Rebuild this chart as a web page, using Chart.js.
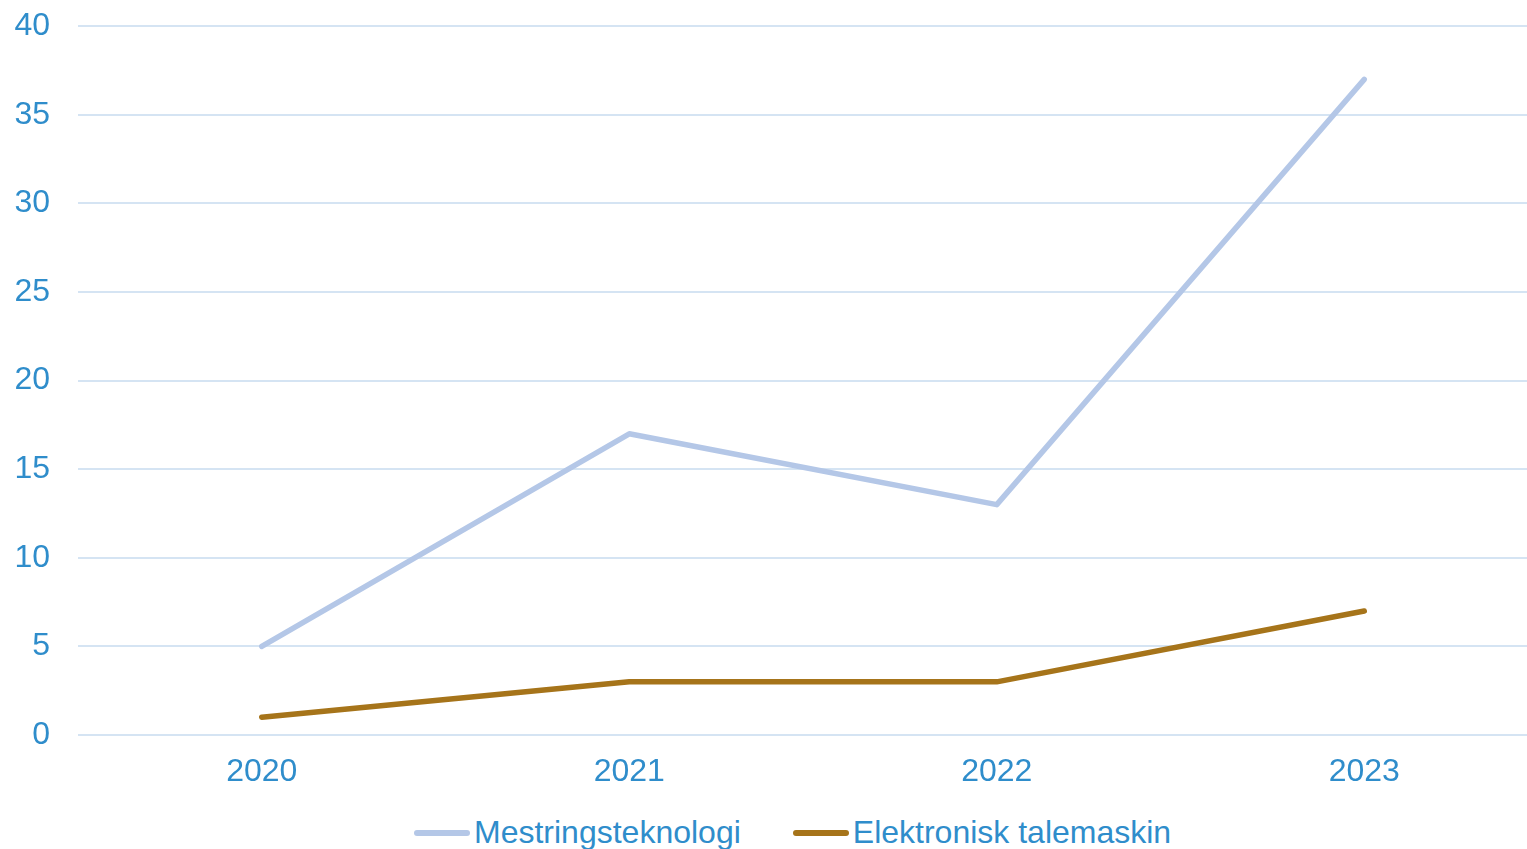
<!DOCTYPE html>
<html>
<head>
<meta charset="utf-8">
<script src="https://cdn.jsdelivr.net/npm/chart.js@4"></script>
<style>
  html, body { margin: 0; padding: 0; background: #fff; overflow: hidden; }
  #wrap { position: relative; width: 1548px; height: 821px; margin-top: -21px; }
  #legend { position: absolute; left: 414px; top: 814px; display: flex; align-items: center;
            font-family: "Liberation Sans", Arial, sans-serif; font-size: 32px; color: #2F8DCB; white-space: nowrap; }
  .item { display: flex; align-items: center; margin-right: 52px; }
  .swatch { width: 56px; height: 6px; border-radius: 3px; margin-right: 4px; }
</style>
</head>
<body>
<div id="wrap"><canvas id="myChart"></canvas></div>
<div id="legend"></div>
<script>
var years = ["2020", "2021", "2022", "2023"];
var mestringsteknologi = [5, 17, 13, 37];
var talemaskin = [1, 3, 3, 7];
var seriesNames = ["Mestringsteknologi", "Elektronisk talemaskin"];
var seriesColors = ["#B4C7E7", "#A6741A"];
var tickColor = "#2F8DCB";

function makeLine(name, values, color) {
    return {
        label: name,
        data: values,
        borderColor: color,
        backgroundColor: color,
        borderWidth: 5.5,
        borderCapStyle: "round",
        borderJoinStyle: "round",
        pointRadius: 0,
        pointHoverRadius: 0,
        tension: 0,
        fill: false
    };
}

var raw_data = {
    labels: years,
    datasets: [
        makeLine(seriesNames[0], mestringsteknologi, seriesColors[0]),
        makeLine(seriesNames[1], talemaskin, seriesColors[1])
    ]
};

var ctx = document.getElementById("myChart");
ctx.width = 1548;
ctx.height = 821;
var myChart = new Chart(ctx, {
    type: "line",
    data: raw_data,
    options: {
        responsive: false,
        animation: false,
        devicePixelRatio: 1,
        layout: { padding: { left: 15, top: 0, right: 0, bottom: 10 } },
        plugins: { legend: { display: false }, tooltip: { enabled: false } },
        scales: {
            x: {
                offset: true,
                grid: { display: false, drawTicks: false },
                border: { display: false },
                ticks: { color: tickColor, padding: 18, font: { family: "Liberation Sans", size: 32 } },
                afterFit: function (scale) { scale.height = 55; }
            },
            y: {
                min: 0,
                max: 40,
                ticks: { stepSize: 5, color: tickColor, padding: 28, font: { family: "Liberation Sans", size: 32 } },
                grid: { color: "#D5E4F3", lineWidth: 2, drawTicks: false },
                border: { display: false },
                afterFit: function (scale) { scale.width = 63; }
            }
        }
    }
});

// legend below the chart
var legend = document.getElementById("legend");
for (var i = 0; i < seriesNames.length; i++) {
    var item = document.createElement("div");
    item.className = "item";
    item.innerHTML = '<span class="swatch" style="background:' + seriesColors[i] + '"></span>' + seriesNames[i];
    legend.appendChild(item);
}
</script>
</body>
</html>
